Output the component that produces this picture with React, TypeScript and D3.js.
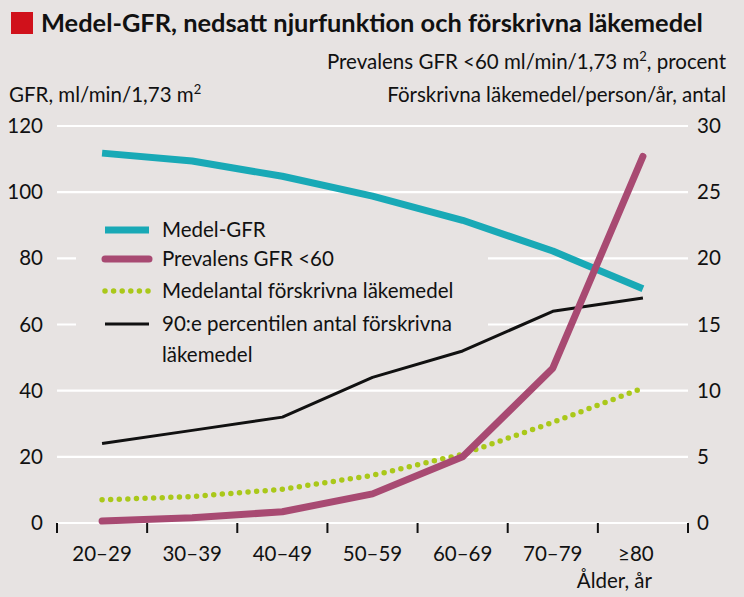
import React from 'react';
import * as d3 from 'd3';

const ageGroups = ['20–29', '30–39', '40–49', '50–59', '60–69', '70–79', '≥80'];
const medelGfr = [111.8, 109.4, 104.8, 98.8, 91.5, 82.2, 70.8];
const prevalensGfr60 = [0.15, 0.4, 0.85, 2.2, 5.0, 11.7, 27.7];
const medelantalLakemedel = [1.75, 2.0, 2.55, 3.6, 5.2, 7.6, 10.2];
const percentil90Lakemedel = [6.0, 7.0, 8.0, 11.0, 13.0, 16.0, 17.0];
const leftTicks = [0, 20, 40, 60, 80, 100, 120];
const rightTicks = [0, 5, 10, 15, 20, 25, 30];

const W = 744;
const H = 597;
const BG = '#e7e3e2';
const FONT = 'Lato, "Open Sans", sans-serif';

const CYAN = '#19a9b6';
const MAGENTA = '#a84a72';
const GREEN = '#aac81a';
const BLACK = '#111111';

const App: React.FC = () => {
  const x = d3.scaleBand<string>().domain(ageGroups).range([57, 688]);
  const yL = d3.scaleLinear().domain([0, 120]).range([523, 126]);
  const yR = d3.scaleLinear().domain([0, 30]).range([523, 126]);
  const cx = (i: number) => (x(ageGroups[i]) as number) + x.bandwidth() / 2;

  const lineL = d3.line<number>().x((_, i) => cx(i)).y(d => yL(d));
  const lineR = d3.line<number>().x((_, i) => cx(i)).y(d => yR(d));

  // legend entries
  const legend = [
    { label: ['Medel-GFR'], color: CYAN, width: 7, cap: 'butt', dash: undefined as string | undefined },
    { label: ['Prevalens GFR <60'], color: MAGENTA, width: 7, cap: 'round', dash: undefined },
    { label: ['Medelantal förskrivna läkemedel'], color: GREEN, width: 5.5, cap: 'round', dash: '0 8.6' },
    { label: ['90:e percentilen antal förskrivna', 'läkemedel'], color: BLACK, width: 3, cap: 'butt', dash: undefined },
  ];
  const legendY = [230, 259, 291, 324];

  return (
    <svg width={W} height={H} style={{ position: 'absolute', left: 0, top: 0, background: BG }} fontFamily={FONT}>
      <rect width={W} height={H} fill={BG} />

      {/* Title */}
      <rect x={11} y={12} width={22} height={22} fill="#d0111b" />
      <text x={41} y={32} fontSize={25.4} fontWeight={700} fill="#111">
        Medel-GFR, nedsatt njurfunktion och förskrivna läkemedel
      </text>

      {/* Axis titles */}
      <text x={9} y={102} fontSize={20.5} fill="#111">
        GFR, ml/min/1,73 m<tspan fontSize={13} dy={-8}>2</tspan>
      </text>
      <text x={726} y={69} fontSize={20.5} fill="#111" textAnchor="end">
        Prevalens GFR &lt;60 ml/min/1,73 m<tspan fontSize={13} dy={-8}>2</tspan><tspan dy={8}>, procent</tspan>
      </text>
      <text x={726} y={102} fontSize={20.5} fill="#111" textAnchor="end">
        Förskrivna läkemedel/person/år, antal
      </text>

      {/* Gridlines */}
      {leftTicks.map(t => (
        <line key={t} x1={57} x2={688} y1={yL(t)} y2={yL(t)} stroke="#ffffff" strokeWidth={2.2} />
      ))}

      {/* Left tick labels */}
      {leftTicks.map(t => (
        <text key={t} x={43} y={yL(t) + 7} fontSize={20.5} textAnchor="end" fill="#111">{t}</text>
      ))}
      {/* Right tick labels */}
      {rightTicks.map(t => (
        <text key={t} x={697} y={yR(t) + 7} fontSize={20.5} fill="#111">{t}</text>
      ))}

      {/* x ticks */}
      {ageGroups.map(g => (
        <line key={g} x1={x(g) as number} x2={x(g) as number} y1={523} y2={533} stroke={BLACK} strokeWidth={2} />
      ))}
      <line x1={688} x2={688} y1={523} y2={533} stroke={BLACK} strokeWidth={2} />
      {ageGroups.map((g, i) => (
        <text key={g} x={cx(i) - (i === 6 ? 7 : 0)} y={561} fontSize={20.5} textAnchor="middle" fill="#111">{g}</text>
      ))}
      <text x={652} y={588} fontSize={20.5} textAnchor="end" fill="#111">Ålder, år</text>

      {/* Legend background hides gridlines */}
      <rect x={76} y={206} width={412} height={166} fill={BG} />
      {legend.map((l, i) => (
        <g key={i}>
          <line x1={105} x2={149} y1={legendY[i]} y2={legendY[i]} stroke={l.color} strokeWidth={l.width}
            strokeLinecap={l.cap as any} strokeDasharray={l.dash} />
          {l.label.map((s, j) => (
            <text key={j} x={162} y={legendY[i] + 7 + j * 31} fontSize={20.5} fill="#111">{s}</text>
          ))}
        </g>
      ))}

      {/* Series */}
      <path d={lineR(percentil90Lakemedel) || ''} fill="none" stroke={BLACK} strokeWidth={3} strokeLinejoin="round" />
      <path d={lineR(medelantalLakemedel) || ''} fill="none" stroke={GREEN} strokeWidth={5.5}
        strokeLinecap="round" strokeDasharray="0 8.6" />
      <path d={lineL(medelGfr) || ''} fill="none" stroke={CYAN} strokeWidth={7} strokeLinejoin="round" />
      <path d={lineR(prevalensGfr60) || ''} fill="none" stroke={MAGENTA} strokeWidth={7}
        strokeLinecap="round" strokeLinejoin="round" />
    </svg>
  );
};

export default App;
